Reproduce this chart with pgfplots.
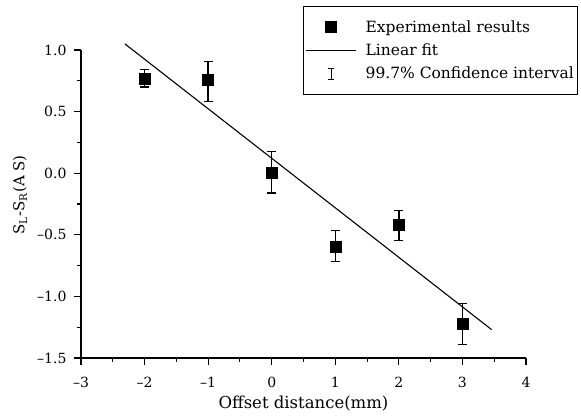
\documentclass[border=0pt]{standalone}
\usepackage{fontspec}
\setmainfont{DejaVu Serif}
\usepackage{pgfplots}
\pgfplotsset{compat=1.18}

\begin{document}
\begin{tikzpicture}
% picture frame: origin = lower left corner of the axis
\useasboundingbox (-81pt,-58pt) rectangle (500pt,358pt);
\begin{axis}[
    at={(0pt,0pt)}, anchor=south west,
    scale only axis, width=445pt, height=308pt,
    xmin=-3, xmax=4, ymin=-1.5, ymax=1.0,
    clip=false,
    axis lines=left,
    axis line style={-, line width=1.1pt},
    tick style={black, line width=1.1pt},
    tick align=outside,
    major tick length=7pt, minor tick length=4pt,
    xtick={-3,...,4},
    xticklabels={--3,--2,--1,0,1,2,3,4},
    ytick={-1.5,-1,...,1},
    yticklabels={--1.5,--1.0,--0.5,0.0,0.5,1.0},
    minor x tick num=1, minor y tick num=1,
    ticklabel style={font=\fontsize{14}{16}\selectfont},
    xticklabel style={yshift=-9pt},
    yticklabel style={xshift=-4pt},
    xlabel={Offset distance(mm)},
    xlabel style={font=\fontsize{16.5}{18}\selectfont, inner sep=0pt, at={(axis description cs:0.5,0)}, anchor=center, yshift=-46pt},
    ylabel={S\textsubscript{L}-S\textsubscript{R}(A S)},
    ylabel style={font=\fontsize{15}{17}\selectfont, at={(axis description cs:-0.137,0.53)}, anchor=center},
    legend cell align=left,
    legend style={at={(axis description cs:0.499,1.143)}, anchor=north west,
      draw=black, line width=1pt, font=\fontsize{15.5}{17}\selectfont,
      inner xsep=2pt, inner ysep=12pt, row sep=6pt, column sep=7pt},
  ]
% measured points with their 99.7% intervals
\addplot[black, only marks, mark=square*, mark size=5.5pt, forget plot,
    error bars/.cd, y dir=both, y explicit,
    error bar style={line width=1.3pt},
    error mark options={rotate=90, black, mark size=4.5pt, line width=1.3pt}]
  coordinates {
    (-2, 0.770)  += (0,0.070) -= (0,0.070)
    (-1, 0.755)  += (0,0.150) -= (0,0.175)
    (0, 0.005)   += (0,0.170) -= (0,0.165)
    (1, -0.597)  += (0,0.130) -= (0,0.120)
    (2, -0.420)  += (0,0.120) -= (0,0.125)
    (3, -1.218)  += (0,0.160) -= (0,0.170)
  };
% linear fit, end points as drawn
\addplot[black, line width=1.1pt, forget plot] coordinates {(-2.31,1.05) (3.46,-1.27)};

\addlegendimage{legend image code/.code={\path (0pt,0pt) (50pt,0pt);
  \fill[black] (19.5pt,-5.5pt) rectangle (30.5pt,5.5pt);}}
\addlegendentry{Experimental results}
\addlegendimage{legend image code/.code={\draw[black, line width=1.1pt] (0pt,0pt) -- (50pt,0pt);}}
\addlegendentry{Linear fit}
\addlegendimage{legend image code/.code={\draw[black, line width=1.1pt]
  (25pt,-5.5pt) -- (25pt,5.5pt) (22pt,-5.5pt) -- (28pt,-5.5pt) (22pt,5.5pt) -- (28pt,5.5pt);}}
\addlegendentry{99.7\% Confidence interval}
\end{axis}
\end{tikzpicture}
\end{document}
